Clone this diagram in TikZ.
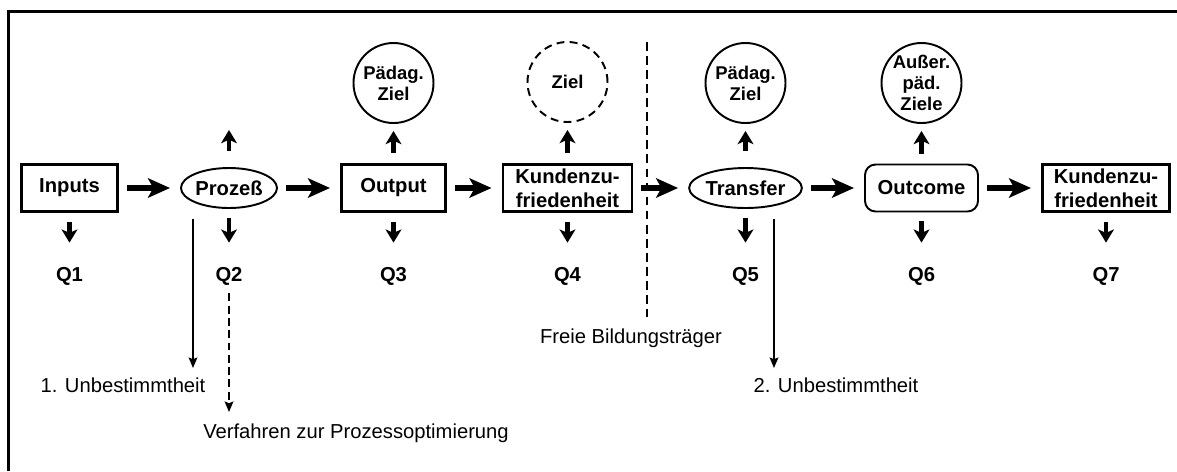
\documentclass[tikz,border=0pt]{standalone}
\usepackage{fontspec}
\setmainfont{Liberation Sans}
\usetikzlibrary{arrows.meta,shapes.geometric}
\newlength\pxu
\setlength\pxu{0.02cm}

\begin{document}
\begin{tikzpicture}[x=0.02cm, y=-0.02cm,
    stufe/.style={draw, line width=1.7pt, align=center, minimum height=47\pxu, inner sep=1pt,
        font=\bfseries\fontsize{11.5}{13.5}\selectfont},
    oval/.style={draw, ellipse, line width=1.1pt, minimum width=96\pxu, minimum height=40\pxu,
        inner sep=0pt, font=\bfseries\fontsize{11.5}{13.5}\selectfont},
    ziel/.style={draw, circle, line width=1.1pt, minimum size=80\pxu, align=center, inner sep=0pt,
        font=\bfseries\fontsize{10.5}{12}\selectfont},
    qlab/.style={inner sep=0pt, text height=8pt, text depth=0pt, font=\bfseries\fontsize{11.5}{12}\selectfont},
    hinweis/.style={inner sep=0pt, font=\fontsize{11.5}{13}\selectfont},
    pfeil/.style={line width=3.2pt, -{Stealth[length=12.5pt, width=11pt, inset=3pt]},
        shorten <=8\pxu, shorten >=10\pxu},
    vpfeil/.style={line width=2.6pt, -{Stealth[length=7.5pt, width=9pt, inset=2pt]}},
    duenn/.style={line width=0.8pt, -{Stealth[length=6pt, width=5pt, inset=1pt]}}]
    \useasboundingbox (0,0) rectangle (1177,471);
    % Rahmen (nur oben und links sichtbar)
    \draw[line width=1.7pt] (8.5,471) -- (8.5,11.5) -- (1177,11.5);
    % Stufen der Kette
    \node[stufe, minimum width=96\pxu] (inp) at (69.5,188) {Inputs};
    \node[oval] (proz) at (229,188) {Prozeß};
    \node[stufe, minimum width=104\pxu] (outp) at (393.5,188) {Output};
    \node[stufe, minimum width=129\pxu] (kz1) at (567.5,188) {Kundenzu-\\friedenheit};
    \node[oval] (trans) at (745.5,188) {Transfer};
    \node[stufe, rounded corners=6pt, line width=1.1pt, minimum width=113\pxu] (outc) at (921.5,188) {Outcome};
    \node[stufe, minimum width=127\pxu] (kz2) at (1106,188) {Kundenzu-\\friedenheit};
    \foreach \a/\b in {inp/proz, proz/outp, outp/kz1, kz1/trans, trans/outc, outc/kz2}
        \draw[pfeil] (\a) -- (\b);
    % Ziele
    \node[ziel] (z3) at (393.5,83) {Pädag.\\Ziel};
    \node[ziel, dashed, dash pattern=on 4.5pt off 3pt] (z4) at (567.5,82) {Ziel};
    \node[ziel] (z5) at (745.5,83) {Pädag.\\Ziel};
    \node[ziel] (z6) at (921.5,83) {Außer.\\päd.\\Ziele};
    \coordinate (proz-oben) at (229,130);
    \draw[vpfeil, shorten <=16\pxu] (proz) -- (proz-oben);
    \foreach \n/\z/\s in {outp/z3/10, kz1/z4/10, trans/z5/16, outc/z6/10}
        \draw[vpfeil, shorten <=\s\pxu, shorten >=7\pxu] (\n) -- (\z);
    % Qualitaetsstufen
    \foreach \n/\x/\q in {inp/69.5/Q1, proz/229/Q2, outp/393.5/Q3, kz1/567.5/Q4, trans/745.5/Q5, outc/921.5/Q6, kz2/1106/Q7} {
        \node[qlab] (\q) at (\x,274) {\q};
        \draw[vpfeil, shorten <=9\pxu, shorten >=24\pxu] (\n) -- (\q);
    }
    % Unbestimmtheiten
    \coordinate (u1) at (193,368);
    \coordinate (u2) at (774,368);
    \draw[duenn, shorten <=10\pxu] (proz.south -| u1) -- (u1);
    \draw[duenn, shorten <=10\pxu] (trans.south -| u2) -- (u2);
    \node[hinweis] (unb1) at (123,385) {1. Unbestimmtheit};
    \node[hinweis] (unb2) at (836,385) {2. Unbestimmtheit};
    \coordinate (v) at (229,412);
    \draw[duenn, dash pattern=on 4.5pt off 2.5pt, shorten <=12\pxu] (Q2) -- (v);
    \node[hinweis] (verf) at (356,433) {Verfahren zur Prozessoptimierung};
    % Trennlinie
    \draw[line width=0.9pt, dash pattern=on 5pt off 3pt] (647,42) -- (647,317);
    \node[hinweis] (frei) at (631,338) {Freie Bildungsträger};
\end{tikzpicture}
\end{document}
